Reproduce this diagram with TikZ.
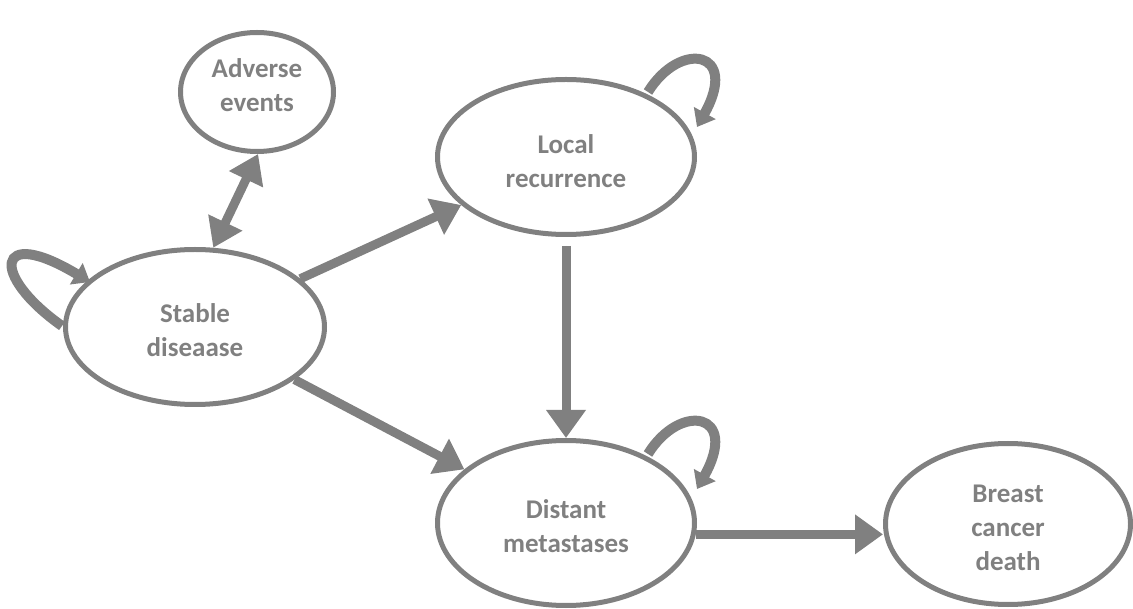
\documentclass[tikz,border=0pt]{standalone}
\usepackage{fontspec}
\setmainfont{Carlito}
\usetikzlibrary{shapes.geometric,arrows.meta}
\definecolor{mygray}{RGB}{128,128,128}
\begin{document}
\begin{tikzpicture}[x=1pt,y=-1pt,
  state/.style={ellipse,draw=mygray,line width=5pt,inner sep=0pt,
    text=mygray,align=center,font=\fontsize{27}{34}\selectfont\bfseries},
  flow/.style={draw=mygray,line width=9pt,
    -{Triangle[length=28pt,width=38pt]},fill=mygray},
  twoway/.style={draw=mygray,line width=9pt,
    {Triangle[length=28pt,width=36pt]}-{Triangle[length=28pt,width=36pt]},fill=mygray},
  loop/.style={draw=mygray,line width=10pt,
    -{Triangle[length=16pt,width=24pt]},fill=none}]
\useasboundingbox (0,0) rectangle (1133,609);
\node[state,minimum width=153pt,minimum height=119pt,text depth=14pt] (ae) at (257,92) {Adverse\\events};
\node[state,text height=61pt,minimum width=257pt,minimum height=155pt] (lr) at (566,157) {Local\\recurrence};
\node[state,text height=59pt,minimum width=259pt,minimum height=155pt] (sd) at (195,327) {Stable\\diseaase};
\node[state,text height=59pt,minimum width=257pt,minimum height=165pt] (dm) at (566,523) {Distant\\metastases};
\node[state,text height=93pt,minimum width=245pt,minimum height=161pt] (bd) at (1008,524) {Breast\\cancer\\death};
% connectors
\draw[twoway] (ae.-89) -- (sd.77);
\draw[flow] (sd) -- (lr);
\draw[flow] (sd) -- (dm);
\draw[flow,shorten <=9pt] (lr.south) -- (dm.north);
\draw[flow] (dm.-5) -- (dm.-5 -| bd.west);
% self loops
\coordinate (sdt) at (62,326);
\coordinate (sdh) at (90,282);
\draw[loop] (sdt) .. controls (-10,275) and (-5,225) .. (sdh);
\coordinate (lrt) at (648,92);
\coordinate (lrh) at (697,127);
\draw[loop] (lrt) .. controls (680,40) and (740,50) .. (lrh);
\coordinate (dmt) at (648,454);
\coordinate (dmh) at (697,489);
\draw[loop] (dmt) .. controls (680,402) and (740,412) .. (dmh);
\end{tikzpicture}
\end{document}
